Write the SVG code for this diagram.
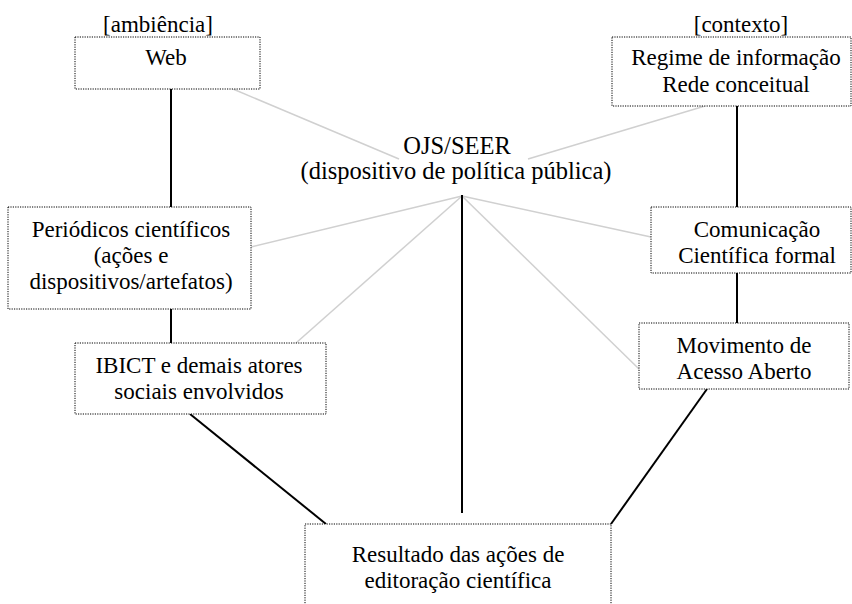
<svg xmlns="http://www.w3.org/2000/svg" width="852" height="604" viewBox="0 0 852 604">
<style>
text{font-family:"Liberation Serif","Tinos","Times New Roman","Times","Noto Serif","DejaVu Serif","FreeSerif",serif;font-size:23px;fill:#000;text-anchor:middle}
.big{font-size:24.5px}
.box{fill:#fff;stroke:#000;stroke-width:1;stroke-dasharray:1.2 1.2}
.blk{stroke:#000;stroke-width:2;fill:none}
.gry{stroke:#d0d0d0;stroke-width:1.5;fill:none}
</style>
<rect width="852" height="604" fill="#fff"/>
<g id="connectors">
<line class="gry" x1="233" y1="89" x2="399" y2="159"/>
<line class="gry" x1="528" y1="159" x2="705" y2="106"/>
<line class="gry" x1="462" y1="196" x2="251" y2="247"/>
<line class="gry" x1="462" y1="196" x2="296" y2="343"/>
<line class="gry" x1="462" y1="196" x2="651" y2="237"/>
<line class="gry" x1="462" y1="196" x2="639" y2="369"/>
<line class="blk" x1="462" y1="195" x2="462" y2="513"/>
<line class="blk" x1="171" y1="89" x2="171" y2="207"/>
<line class="blk" x1="171" y1="309" x2="171" y2="343"/>
<line class="blk" x1="737" y1="106" x2="737" y2="207"/>
<line class="blk" x1="737" y1="273" x2="737" y2="323"/>
<line class="blk" x1="190" y1="414" x2="326" y2="524"/>
<line class="blk" x1="707" y1="389" x2="611" y2="524"/>
</g>
<g id="ojs">
<text class="big" x="457" y="154">OJS/SEER</text>
<text class="big" x="456" y="179">(dispositivo de política pública)</text>
</g>
<g id="ambiencia">
<text x="158" y="32">[ambiência]</text>
</g>
<g id="contexto">
<text x="741" y="32">[contexto]</text>
</g>
<g id="web">
<rect class="box" x="75" y="37" width="185" height="52"/>
<text x="166" y="65">Web</text>
</g>
<g id="regime">
<rect class="box" x="612" y="37" width="239" height="69"/>
<text x="736" y="65">Regime de informação</text>
<text x="736" y="92">Rede conceitual</text>
</g>
<g id="periodicos">
<rect class="box" x="8" y="207" width="243" height="102"/>
<text x="131" y="237">Periódicos científicos</text>
<text x="131" y="263">(ações e</text>
<text x="131" y="289">dispositivos/artefatos)</text>
</g>
<g id="comunicacao">
<rect class="box" x="651" y="207" width="200" height="66"/>
<text x="757" y="237">Comunicação</text>
<text x="757" y="263">Científica formal</text>
</g>
<g id="ibict">
<rect class="box" x="75" y="343" width="251" height="71"/>
<text x="199" y="373">IBICT e demais atores</text>
<text x="199" y="399">sociais envolvidos</text>
</g>
<g id="movimento">
<rect class="box" x="639" y="323" width="210" height="66"/>
<text x="744" y="353">Movimento de</text>
<text x="744" y="379">Acesso Aberto</text>
</g>
<g id="resultado">
<rect class="box" x="305" y="524" width="306" height="90"/>
<text x="458" y="562">Resultado das ações de</text>
<text x="458" y="588">editoração científica</text>
</g>
</svg>
